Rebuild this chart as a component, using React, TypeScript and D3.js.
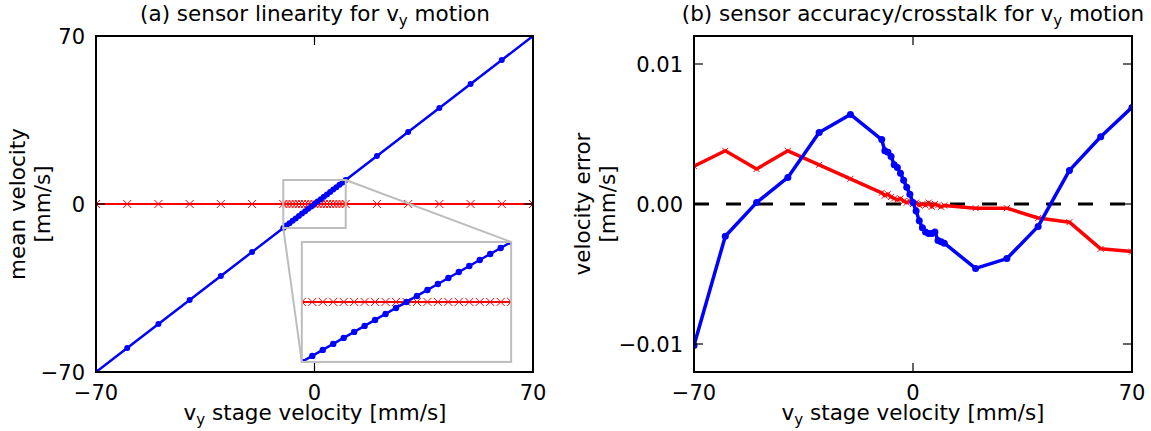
import React from 'react'
import * as d3 from 'd3'

// stage velocities (mm/s): coarse steps outside +-10, 1 mm/s steps inside
const stageVel = [
  -70, -60, -50, -40, -30, -20,
  -10, -9, -8, -7, -6, -5, -4, -3, -2, -1, 0, 1, 2, 3, 4, 5, 6, 7, 8, 9, 10,
  20, 30, 40, 50, 60, 70,
]

// velocity error in v_y (measured - stage), mm/s
const errVy = [
  -0.0101, -0.0023, 0.0001, 0.0019, 0.0051, 0.0064,
  0.0046, 0.0038, 0.0037, 0.0034, 0.0028, 0.0026, 0.0022, 0.0017, 0.0012, 0.0007,
  0.0001, -0.0005, -0.0012, -0.0017, -0.002, -0.0021, -0.0021, -0.002, -0.0026, -0.0027, -0.0028,
  -0.0046, -0.0039, -0.0016, 0.0024, 0.0048, 0.0069,
]

// crosstalk (v_x reading while moving in y), mm/s
const errVx = [
  0.0027, 0.0038, 0.0025, 0.0038, 0.0028, 0.0018,
  0.0008, 0.0006, 0.0007, 0.0005, 0.0004, 0.0003, 0.0004, 0.0002, 0.0001, 0.0002,
  0.0, 0.0001, -0.0001, 0.0, -0.0001, 0.0001, -0.0002, 0.0, -0.0001, -0.0002, -0.0001,
  -0.0003, -0.0003, -0.001, -0.0013, -0.0032, -0.0034,
]

const meanVy = stageVel.map((v, i) => v + errVy[i])
const meanVx = errVx

const xTicks = [-70, 0, 70]
const yTicksA = [-70, 0, 70]
const yTicksB = [-0.01, 0, 0.01]

const W = 1151
const H = 431
const FONT = 'DejaVu Sans, sans-serif'
const BLUE = '#0000ff'
const RED = '#ff0000'
const GREY = '#bdbdbd'

const fmt = (v: number, dp = 0) => (v < 0 ? '\u2212' : '') + Math.abs(v).toFixed(dp)

type Pt = [number, number]

function Cross({ x, y, s, w }: { x: number; y: number; s: number; w: number }) {
  return (
    <path
      d={`M${x - s},${y - s}L${x + s},${y + s}M${x - s},${y + s}L${x + s},${y - s}`}
      stroke={RED}
      strokeWidth={w}
      fill="none"
    />
  )
}

function Series({
  pts, x, y, color, lw, marker, ms,
}: {
  pts: Pt[]; x: d3.ScaleLinear<number, number>; y: d3.ScaleLinear<number, number>
  color: string; lw: number; marker: 'o' | 'x'; ms: number
}) {
  const line = d3.line<Pt>().x(d => x(d[0])).y(d => y(d[1]))
  return (
    <g>
      <path d={line(pts) || ''} fill="none" stroke={color} strokeWidth={lw} strokeLinejoin="round" />
      {pts.map((d, i) =>
        marker === 'o'
          ? <circle key={i} cx={x(d[0])} cy={y(d[1])} r={ms} fill={color} />
          : <Cross key={i} x={x(d[0])} y={y(d[1])} s={ms} w={1} />
      )}
    </g>
  )
}

function Frame({
  x, y, xt, yt, ydp,
}: {
  x: d3.ScaleLinear<number, number>; y: d3.ScaleLinear<number, number>
  xt: number[]; yt: number[]; ydp: number
}) {
  const [x0, x1] = x.range()
  const [y0, y1] = y.range()
  const tl = 9
  return (
    <g>
      {xt.map(t => (
        <g key={'x' + t}>
          <line x1={x(t)} x2={x(t)} y1={y0} y2={y0 - tl} stroke="#000" strokeWidth={1.2} />
          <line x1={x(t)} x2={x(t)} y1={y1} y2={y1 + tl} stroke="#000" strokeWidth={1.2} />
          <text x={x(t)} y={y0 + 28} textAnchor="middle" fontSize={21} fontFamily={FONT}>{fmt(t)}</text>
        </g>
      ))}
      {yt.map(t => (
        <g key={'y' + t}>
          <line x1={x0} x2={x0 + tl} y1={y(t)} y2={y(t)} stroke="#000" strokeWidth={1.2} />
          <line x1={x1} x2={x1 - tl} y1={y(t)} y2={y(t)} stroke="#000" strokeWidth={1.2} />
          <text x={x0 - 11} y={y(t)} dy="0.36em" textAnchor="end" fontSize={21} fontFamily={FONT}>{fmt(t, ydp)}</text>
        </g>
      ))}
      <rect x={x0} y={y1} width={x1 - x0} height={y0 - y1} fill="none" stroke="#000" strokeWidth={2} />
    </g>
  )
}

function VY({ fs }: { fs: number }) {
  return (
    <>
      v<tspan fontSize={fs * 0.7} dy={fs * 0.22}>y</tspan><tspan dy={-fs * 0.22}>{' '}</tspan>
    </>
  )
}

export default function App() {
  // panel (a)
  const xa = d3.scaleLinear().domain([-70, 70]).range([96, 533])
  const ya = d3.scaleLinear().domain([-70, 70]).range([372, 36])
  // panel (b)
  const xb = d3.scaleLinear().domain([-70, 70]).range([694, 1132])
  const yb = d3.scaleLinear().domain([-0.012, 0.012]).range([372, 36])

  // inset of panel (a)
  const zoomBox = [-10, 10]
  const insetIdx = stageVel.map((v, i) => i).filter(i => stageVel[i] >= zoomBox[0] && stageVel[i] <= zoomBox[1])
  const aw = 533 - 96
  const ah = 372 - 36
  const ix0 = 96 + aw * 0.471
  const ix1 = 96 + aw * 0.95
  const iy0 = 372 - ah * 0.03
  const iy1 = 372 - ah * 0.387
  const xi = d3.scaleLinear().domain(zoomBox).range([ix0, ix1])
  const yi = d3.scaleLinear().domain(zoomBox).range([iy0, iy1])

  const ptsAy: Pt[] = stageVel.map((v, i) => [v, meanVy[i]])
  const ptsAx: Pt[] = stageVel.map((v, i) => [v, meanVx[i]])
  const ptsIy: Pt[] = insetIdx.map(i => [stageVel[i], meanVy[i]])
  const ptsIx: Pt[] = insetIdx.map(i => [stageVel[i], meanVx[i]])
  const ptsBy: Pt[] = stageVel.map((v, i) => [v, errVy[i]])
  const ptsBx: Pt[] = stageVel.map((v, i) => [v, errVx[i]])

  const fs = 21.5

  return (
    <svg width={W} height={H} style={{ position: 'absolute', left: 0, top: 0, background: '#fff' }}>
      <defs>
        <clipPath id="clipA"><rect x={96} y={36} width={aw} height={ah} /></clipPath>
        <clipPath id="clipB"><rect x={694} y={36} width={1132 - 694} height={ah} /></clipPath>
        <clipPath id="clipI"><rect x={ix0} y={iy1} width={ix1 - ix0} height={iy0 - iy1} /></clipPath>
      </defs>
      <rect width={W} height={H} fill="#fff" />

      {/* panel (a) */}
      <g clipPath="url(#clipA)">
        <Series pts={ptsAx} x={xa} y={ya} color={RED} lw={2} marker="x" ms={4} />
        <Series pts={ptsAy} x={xa} y={ya} color={BLUE} lw={2.5} marker="o" ms={3} />
      </g>
      {/* zoom rectangle and connectors */}
      <rect x={xa(zoomBox[0])} y={ya(zoomBox[1])} width={xa(zoomBox[1]) - xa(zoomBox[0])}
        height={ya(zoomBox[0]) - ya(zoomBox[1])} fill="none" stroke={GREY} strokeWidth={2} />
      <line x1={xa(zoomBox[0])} y1={ya(zoomBox[0])} x2={ix0} y2={iy0} stroke={GREY} strokeWidth={2} />
      <line x1={xa(zoomBox[1])} y1={ya(zoomBox[1])} x2={ix1} y2={iy1} stroke={GREY} strokeWidth={2} />
      <Frame x={xa} y={ya} xt={xTicks} yt={yTicksA} ydp={0} />
      {/* inset */}
      <rect x={ix0} y={iy1} width={ix1 - ix0} height={iy0 - iy1} fill="#fff" />
      <g clipPath="url(#clipI)">
        <Series pts={ptsIx} x={xi} y={yi} color={RED} lw={2} marker="x" ms={4} />
        <Series pts={ptsIy} x={xi} y={yi} color={BLUE} lw={2.5} marker="o" ms={3.2} />
      </g>
      <rect x={ix0} y={iy1} width={ix1 - ix0} height={iy0 - iy1} fill="none" stroke={GREY} strokeWidth={2} />

      <text x={315} y={21} textAnchor="middle" fontSize={fs} fontFamily={FONT}>
        (a) sensor linearity for <VY fs={fs} />motion
      </text>
      <text x={315} y={420} textAnchor="middle" fontSize={fs} fontFamily={FONT}>
        <VY fs={fs} />stage velocity [mm/s]
      </text>
      <g transform="translate(25,204) rotate(-90)">
        <text x={0} y={0} textAnchor="middle" fontSize={fs} fontFamily={FONT}>mean velocity</text>
        <text x={0} y={25} textAnchor="middle" fontSize={fs} fontFamily={FONT}>[mm/s]</text>
      </g>

      {/* panel (b) */}
      <g clipPath="url(#clipB)">
        <line x1={xb(-70)} x2={xb(70)} y1={yb(0)} y2={yb(0)} stroke="#000" strokeWidth={3} strokeDasharray="15 17" />
        <Series pts={ptsBx} x={xb} y={yb} color={RED} lw={3.5} marker="x" ms={3} />
        <Series pts={ptsBy} x={xb} y={yb} color={BLUE} lw={3.5} marker="o" ms={3.5} />
      </g>
      <Frame x={xb} y={yb} xt={xTicks} yt={yTicksB} ydp={2} />
      <text x={913} y={21} textAnchor="middle" fontSize={fs} fontFamily={FONT}>
        (b) sensor accuracy/crosstalk for <VY fs={fs} />motion
      </text>
      <text x={913} y={420} textAnchor="middle" fontSize={fs} fontFamily={FONT}>
        <VY fs={fs} />stage velocity [mm/s]
      </text>
      <g transform="translate(590,204) rotate(-90)">
        <text x={0} y={0} textAnchor="middle" fontSize={fs} fontFamily={FONT}>velocity error</text>
        <text x={0} y={25} textAnchor="middle" fontSize={fs} fontFamily={FONT}>[mm/s]</text>
      </g>
    </svg>
  )
}
